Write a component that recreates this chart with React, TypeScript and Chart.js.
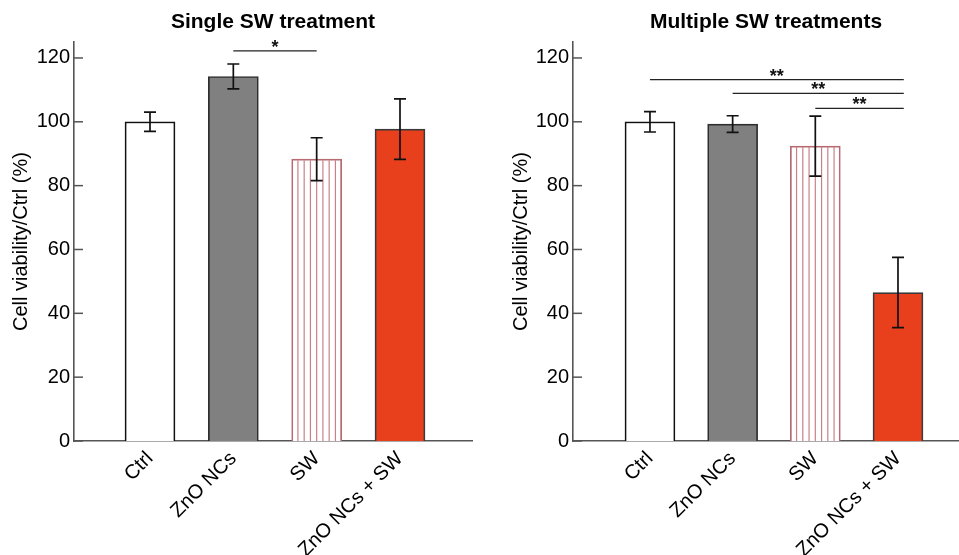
import { useEffect, useRef } from 'react';
import { Chart, registerables } from 'chart.js';

Chart.register(...registerables);

const categories = ['Ctrl', 'ZnO NCs', 'SW', 'ZnO NCs + SW'];
const yTickValues = [0, 20, 40, 60, 80, 100, 120];

const singleTitle = 'Single SW treatment';
const singleMeans = [100, 114.2, 88.3, 97.7];
const singleErrors = [3.0, 3.9, 6.7, 9.5];
const singleSigFrom = [2];
const singleSigTo = [3];
const singleSigLevel = [122.2];
const singleSigLabels = ['*'];

const multipleTitle = 'Multiple SW treatments';
const multipleMeans = [100, 99.3, 92.4, 46.5];
const multipleErrors = [3.2, 2.6, 9.4, 11.0];
const multipleSigFrom = [1, 2, 3];
const multipleSigTo = [4.07, 4.07, 4.07];
const multipleSigLevel = [113.2, 108.9, 104.2];
const multipleSigLabels = ['**', '**', '**'];

const yAxisTitle = 'Cell viability/Ctrl (%)';

const barFills = ['#ffffff', '#808080', '#ffffff', '#e8401c'];
const barBorders = ['#111111', '#2e2e2e', '#b86a72', '#3a3a3a'];
const hatched = [false, false, true, false];

const FONT = '"Liberation Sans", Arial, Helvetica, sans-serif';

type PanelProps = {
  title: string;
  means: number[];
  errors: number[];
  sigFrom: number[];
  sigTo: number[];
  sigLevel: number[];
  sigLabels: string[];
  left: number;
  width: number;
  yWidth: number;
  titlePad: number;
  padRight: number;
  xMin: number;
  xMax: number;
};

function Panel(p: PanelProps) {
  const ref = useRef<HTMLCanvasElement | null>(null);
  useEffect(() => {
    if (!ref.current) return;
    const overlay = {
      id: 'overlay',
      afterDatasetsDraw(chart: any) {
        const ctx = chart.ctx as CanvasRenderingContext2D;
        const x = chart.scales.x;
        const y = chart.scales.y;
        const area = chart.chartArea;
        const meta = chart.getDatasetMeta(0);
        ctx.save();
        // hatch
        meta.data.forEach((bar: any, i: number) => {
          if (!hatched[i]) return;
          const { x: cx, y: top, base, width } = bar.getProps(['x', 'y', 'base', 'width'], true);
          const l = cx - width / 2;
          ctx.strokeStyle = '#c98088';
          ctx.lineWidth = 1.2;
          for (let k = 1; k < 8; k++) {
            const lx = l + (k * width) / 8;
            ctx.beginPath();
            ctx.moveTo(lx, top + 1);
            ctx.lineTo(lx, base);
            ctx.stroke();
          }
        });
        // error bars
        ctx.strokeStyle = '#111';
        ctx.lineWidth = 1.7;
        meta.data.forEach((bar: any, i: number) => {
          const cx = bar.x;
          const hi = y.getPixelForValue(p.means[i] + p.errors[i]);
          const lo = y.getPixelForValue(p.means[i] - p.errors[i]);
          ctx.beginPath();
          ctx.moveTo(cx, hi);
          ctx.lineTo(cx, lo);
          ctx.moveTo(cx - 6, hi);
          ctx.lineTo(cx + 6, hi);
          ctx.moveTo(cx - 6, lo);
          ctx.lineTo(cx + 6, lo);
          ctx.stroke();
        });
        // inward y ticks
        ctx.strokeStyle = '#555';
        ctx.lineWidth = 1.5;
        yTickValues.forEach((v) => {
          const py = y.getPixelForValue(v);
          ctx.beginPath();
          ctx.moveTo(area.left, py);
          ctx.lineTo(area.left + 9, py);
          ctx.stroke();
        });
        // significance
        ctx.strokeStyle = '#222';
        ctx.lineWidth = 1.3;
        ctx.fillStyle = '#111';
        ctx.font = `bold 18px ${FONT}`;
        ctx.textAlign = 'center';
        ctx.textBaseline = 'alphabetic';
        p.sigFrom.forEach((f, i) => {
          const x1 = x.getPixelForValue(f);
          const x2 = x.getPixelForValue(p.sigTo[i]);
          const py = y.getPixelForValue(p.sigLevel[i]);
          ctx.beginPath();
          ctx.moveTo(x1, py);
          ctx.lineTo(x2, py);
          ctx.stroke();
          ctx.fillText(p.sigLabels[i], (x1 + x2) / 2, py + 2);
        });
        // title
        ctx.fillStyle = '#000';
        ctx.font = `bold 21px ${FONT}`;
        ctx.textBaseline = 'middle';
        ctx.fillText(p.title, (area.left + area.right) / 2, 22);
        ctx.restore();
      },
    };
    const chart = new Chart(ref.current, {
      type: 'bar',
      data: {
        datasets: [
          {
            data: p.means.map((m, i) => ({ x: i + 1, y: m })),
            backgroundColor: barFills,
            borderColor: barBorders,
            borderWidth: 1.7,
            barThickness: 50,
          } as any,
        ],
      },
      options: {
        animation: false,
        responsive: false,
        layout: { padding: { top: 42, right: p.padRight, left: 0, bottom: 0 } },
        plugins: { legend: { display: false }, tooltip: { enabled: false }, title: { display: false } },
        scales: {
          x: {
            type: 'linear',
            min: p.xMin,
            max: p.xMax,
            offset: false,
            grid: { display: false, drawTicks: false },
            border: { display: true, color: '#555', width: 1.6 },
            afterBuildTicks: (s: any) => {
              s.ticks = categories.map((_, i) => ({ value: i + 1 }));
            },
            afterFit: (s: any) => {
              s.height = 114;
            },
            ticks: {
              autoSkip: false,
              minRotation: 45,
              maxRotation: 45,
              padding: 6,
              color: '#000',
              font: { family: FONT, size: 20 },
              callback: (v: any) => categories[Math.round(Number(v)) - 1] ?? '',
            },
          },
          y: {
            min: 0,
            max: 125,
            grid: { display: false, drawTicks: false },
            border: { display: true, color: '#555', width: 1.6 },
            afterBuildTicks: (s: any) => {
              s.ticks = yTickValues.map((v) => ({ value: v }));
            },
            afterFit: (s: any) => {
              s.width = p.yWidth;
            },
            ticks: {
              padding: 4,
              color: '#000',
              font: { family: FONT, size: 20 },
            },
            title: {
              display: true,
              text: yAxisTitle,
              color: '#000',
              font: { family: FONT, size: 20 },
              padding: { top: p.titlePad, bottom: 0 },
            },
          },
        },
      } as any,
      plugins: [overlay],
    });
    return () => chart.destroy();
  }, []);
  return (
    <canvas
      ref={ref}
      width={p.width}
      height={555}
      style={{ position: 'absolute', left: p.left, top: 0, width: p.width, height: 555 }}
    />
  );
}

export default function App() {
  return (
    <div style={{ position: 'absolute', left: 0, top: 0, width: 959, height: 555, background: '#fff' }}>
      <Panel
        title={singleTitle}
        means={singleMeans}
        errors={singleErrors}
        sigFrom={singleSigFrom}
        sigTo={singleSigTo}
        sigLevel={singleSigLevel}
        sigLabels={singleSigLabels}
        left={0}
        width={480}
        yWidth={74}
        titlePad={9}
        padRight={8}
        xMin={0.088}
        xMax={4.864}
      />
      <Panel
        title={multipleTitle}
        means={multipleMeans}
        errors={multipleErrors}
        sigFrom={multipleSigFrom}
        sigTo={multipleSigTo}
        sigLevel={multipleSigLevel}
        sigLabels={multipleSigLabels}
        left={480}
        width={479}
        yWidth={93}
        titlePad={29}
        padRight={0}
        xMin={0.069}
        xMax={4.738}
      />
    </div>
  );
}
